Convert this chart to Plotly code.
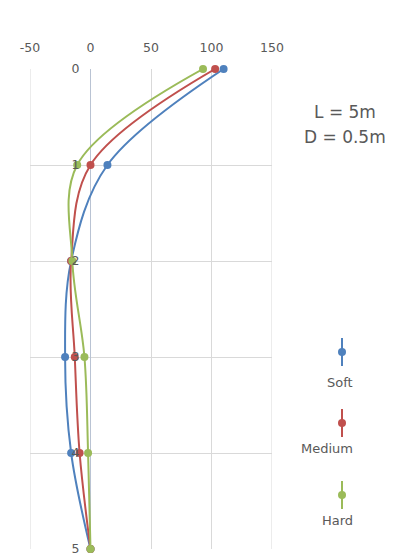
import plotly.graph_objects as go

# Depth below the pile head (m) and response for each soil type
depth = [0, 1, 2, 3, 4, 5]
soft = [110, 14, -16, -21, -16, 0]
medium = [103, 0, -16, -13, -9, 0]
hard = [93, -11, -15, -5, -2, 0]

series_names = ["Soft", "Medium", "Hard"]
series_values = [soft, medium, hard]
series_colors = ["#4F81BD", "#C0504D", "#9BBB59"]

x_ticks = [-50, 0, 50, 100, 150]
x_labels = [str(v) for v in x_ticks]
y_ticks = [0, 1, 2, 3, 4, 5]

FONT = "DejaVu Sans"
grey = "#595959"

fig = go.Figure()
for name, vals, col in zip(series_names, series_values, series_colors):
    fig.add_trace(go.Scatter(
        x=vals, y=depth, name=name, mode="lines+markers",
        line=dict(color=col, width=2, shape="spline", smoothing=1.0),
        marker=dict(color=col, size=8),
        cliponaxis=False, showlegend=False,
    ))

fig.update_layout(
    width=405, height=554,
    margin=dict(l=30, r=133, t=69, b=5, autoexpand=False),
    paper_bgcolor="white", plot_bgcolor="white",
    font=dict(family=FONT, color=grey, size=12),
    xaxis=dict(
        side="top", range=[-50, 150], tickvals=x_ticks, ticktext=x_labels,
        showgrid=True, gridcolor="#d9d9d9", gridwidth=1,
        zeroline=True, zerolinecolor="#b9c3d3", zerolinewidth=1,
        showline=False, ticks="", ticklabelstandoff=14,
        tickfont=dict(size=12.5, color=grey),
    ),
    yaxis=dict(
        range=[5, 0], tickvals=y_ticks, autorange=False, automargin=False,
        anchor="free", position=60 / 242,
        showgrid=True, gridcolor="#d9d9d9", gridwidth=1,
        zeroline=False, showline=False,
        ticks="outside", ticklen=8, tickcolor="rgba(0,0,0,0)",
        ticklabeloverflow="allow",
        tickfont=dict(size=12.5, color=grey),
    ),
)

# Plot frame edges at the left and right of the grid
fig.add_shape(type="line", xref="x", yref="paper", x0=-50, x1=-50, y0=0, y1=1,
              line=dict(color="#d9d9d9", width=1))
fig.add_shape(type="line", xref="x", yref="paper", x0=150, x1=150, y0=0, y1=1,
              line=dict(color="#d9d9d9", width=1))


def px_x(p):
    return (p - 30) / 242


def px_y(p):
    return 1 - (p - 69) / 480


# Pile description
for txt, cy in [("L = 5m", 112), ("D = 0.5m", 137)]:
    fig.add_annotation(text=txt, xref="paper", yref="paper",
                       x=px_x(345), y=px_y(cy), xanchor="center",
                       yanchor="middle", showarrow=False,
                       font=dict(family=FONT, size=17, color=grey))

# Vertical legend: short vertical line with a marker, label underneath
legend_rows = [(352, 382), (423, 448), (495, 520)]
for name, col, (cy, ty) in zip(series_names, series_colors, legend_rows):
    lx = 342
    fig.add_shape(type="line", xref="paper", yref="paper",
                  x0=px_x(lx), x1=px_x(lx),
                  y0=px_y(cy - 14), y1=px_y(cy + 14),
                  line=dict(color=col, width=2))
    fig.add_shape(type="circle", xref="paper", yref="paper",
                  x0=px_x(lx - 4), x1=px_x(lx + 4),
                  y0=px_y(cy - 4), y1=px_y(cy + 4),
                  fillcolor=col, line=dict(color=col, width=0))
    fig.add_annotation(text=name, xref="paper", yref="paper",
                       x=px_x(355), y=px_y(ty),
                       xanchor="right", yanchor="middle", showarrow=False,
                       font=dict(family=FONT, size=13, color=grey))

fig.write_html("out.html")
